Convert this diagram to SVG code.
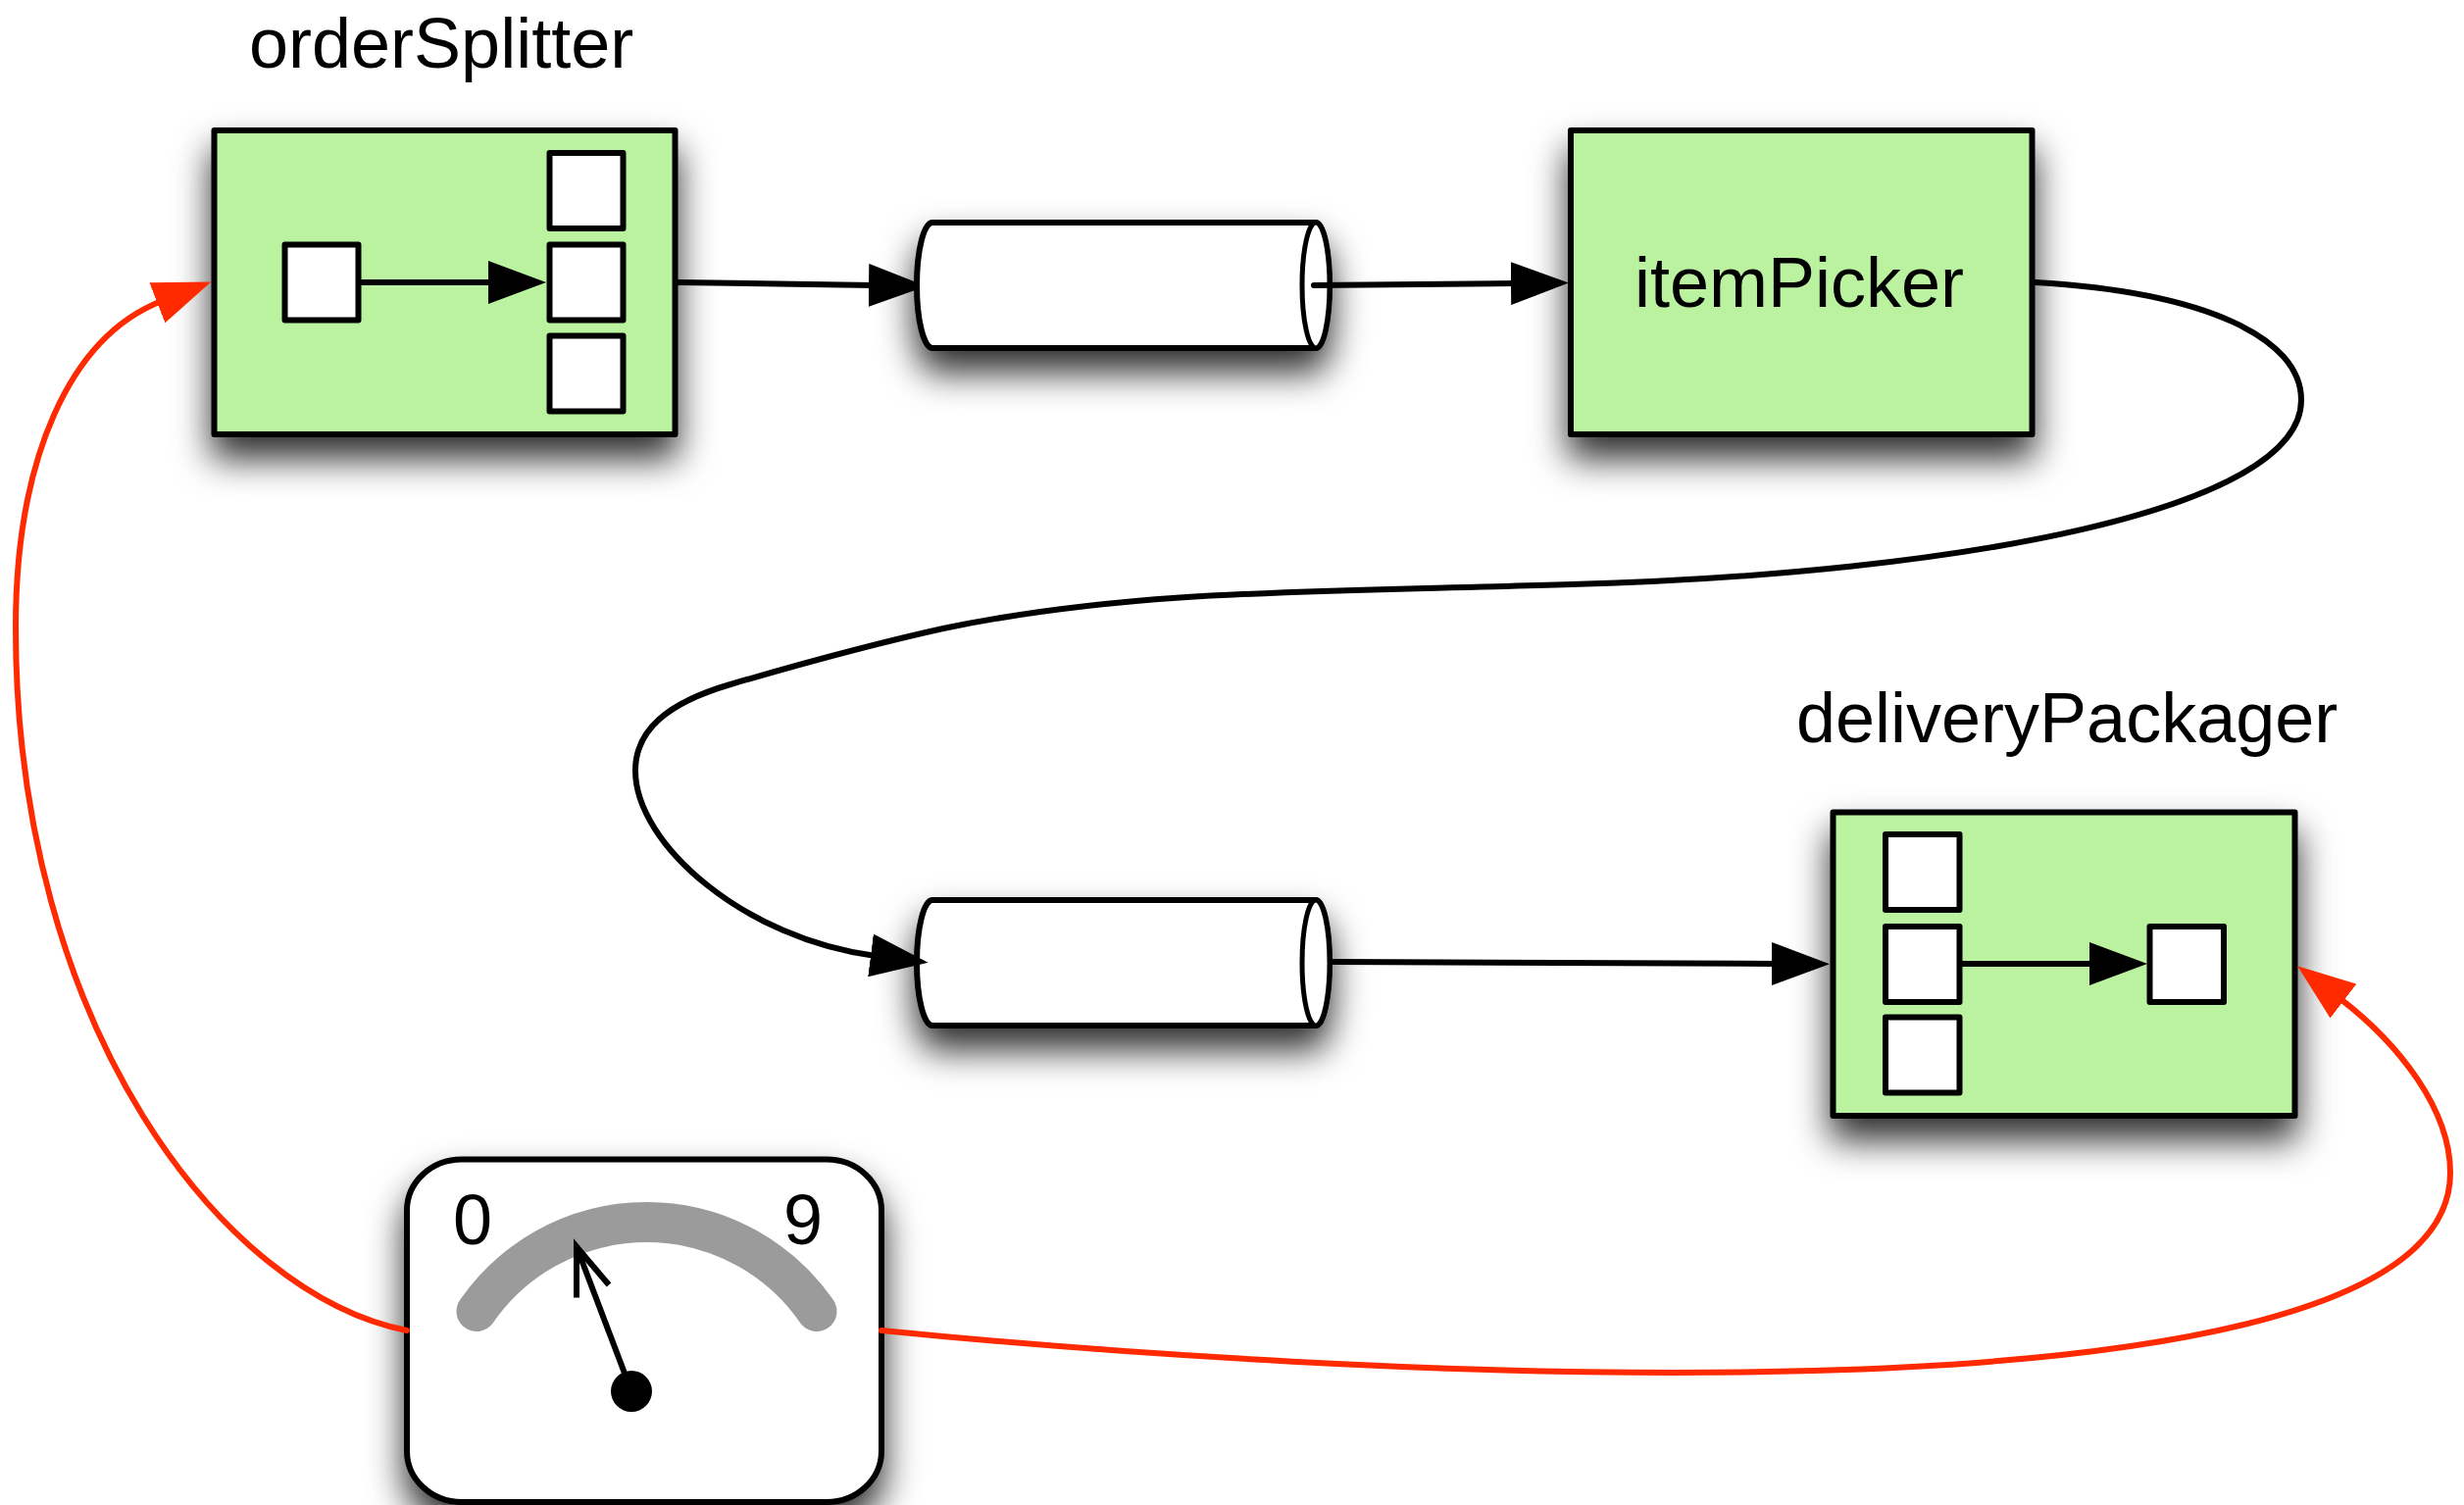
<svg xmlns="http://www.w3.org/2000/svg" width="2513" height="1535" viewBox="0 0 2513 1535">
<style>
.box{fill:#bbf2a0;stroke:#000;stroke-width:6;stroke-linejoin:round;filter:url(#shadow)}
.sq{fill:#fff;stroke:#000;stroke-width:6;stroke-linejoin:round}
.cyl{fill:#fff;stroke:#000;stroke-width:6;filter:url(#shadow)}
.cap{fill:#fff;stroke:#000;stroke-width:5}
.t{font-family:"Liberation Sans",Arial,sans-serif;font-size:72px;fill:#000}
.c{fill:none;stroke:#000;stroke-width:6;stroke-linecap:round;marker-end:url(#head)}
.r{fill:none;stroke:#ff2a00;stroke-width:6;stroke-linecap:round;marker-end:url(#headRed)}
</style>
<defs>
<filter id="shadow" filterUnits="userSpaceOnUse" x="0" y="0" width="2513" height="1535">
<feDropShadow dx="0" dy="22" stdDeviation="18" flood-color="#000" flood-opacity="0.82"/>
</filter>
<marker id="head" markerUnits="userSpaceOnUse" viewBox="0 0 59 44" markerWidth="59" markerHeight="44" refX="5" refY="22" orient="auto"><path d="M0,0L59,22L0,44Z" fill="#000"/></marker>
<marker id="headCut" markerUnits="userSpaceOnUse" viewBox="0 0 59 44" markerWidth="59" markerHeight="44" refX="5" refY="22" orient="auto"><path d="M0,0L48,18V26L0,44Z" fill="#000"/></marker>
<marker id="headRed" markerUnits="userSpaceOnUse" viewBox="0 0 59 44" markerWidth="59" markerHeight="44" refX="5" refY="22" orient="auto"><path d="M0,0L59,22L0,44Z" fill="#ff2a00"/></marker>
</defs>
<rect width="2513" height="1535" fill="#fff"/>
<g id="orderSplitter">
<text class="t" x="254" y="69">orderSplitter</text>
<rect class="box" x="218.500" y="133" width="470" height="310"/>
<rect class="sq" x="560.500" y="156" width="75" height="77"/>
<rect class="sq" x="560.500" y="249.500" width="75" height="77"/>
<rect class="sq" x="290.500" y="249.500" width="75" height="77"/>
<rect class="sq" x="560.500" y="342.500" width="75" height="77"/>
</g>
<g id="queue1">
<path class="cyl" d="M951,227H1342A14,64 0 0 1 1342,355H951A16,64 0 0 1 951,227Z"/>
<ellipse class="cap" cx="1342" cy="291" rx="14" ry="64"/>
</g>
<g id="itemPicker">
<rect class="box" x="1602" y="133" width="470.500" height="310"/>
<text class="t" x="1667" y="313">itemPicker</text>
</g>
<g id="queue2">
<path class="cyl" d="M951,918H1342A14,64 0 0 1 1342,1046H951A16,64 0 0 1 951,918Z"/>
<ellipse class="cap" cx="1342" cy="982" rx="14" ry="64"/>
</g>
<g id="deliveryPackager">
<text class="t" x="1832" y="757">deliveryPackager</text>
<rect class="box" x="1869.500" y="828.500" width="471" height="309.500"/>
<rect class="sq" x="1923" y="851" width="75.500" height="77"/>
<rect class="sq" x="1923" y="945" width="75.500" height="77"/>
<rect class="sq" x="1923" y="1037.500" width="75.500" height="77"/>
<rect class="sq" x="2192.500" y="945" width="75.500" height="77"/>
</g>
<g id="gauge">
<rect x="415" y="1182.500" width="484" height="349.500" rx="56" ry="52" fill="#fff" stroke="#000" stroke-width="6" filter="url(#shadow)"/>
<text class="t" x="462" y="1269">0</text>
<text class="t" x="799" y="1269">9</text>
<path d="M486,1337.500A211,211 0 0 1 833,1337.500" fill="none" stroke="#9b9b9b" stroke-width="41" stroke-linecap="round"/>
<path d="M588,1323.500V1271.500L621,1310.500" fill="none" stroke="#000" stroke-width="6" stroke-miterlimit="10"/>
<line x1="588" y1="1271.500" x2="644" y2="1419" stroke="#000" stroke-width="6"/>
<circle cx="644" cy="1419" r="21" fill="#000"/>
</g>
<g id="connectors">
<path class="c" d="M368,288H503"/>
<path class="c" d="M2001,983H2136"/>
<path class="c" style="marker-end:url(#headCut)" d="M691,288L891,291"/>
<path class="c" d="M1340,291L1546,289"/>
<path class="c" d="M1360,981L1812,983"/>
<path class="c" d="M2076,288C2250,298 2347,345 2347,408C2347,520 2000,585 1603,596C1350,604 1160,600 962,641C885,658 810,679 745,698C680,717 648,745 648,786C648,861 760,958 893,975"/>
<path class="r" d="M415,1357C230,1321 16,1050 16,640C16,470 70,344 165,307"/>
<path class="r" d="M899,1357C1300,1397 2500,1480 2499,1196C2499,1131 2446,1064 2386,1018"/>
</g>
</svg>
